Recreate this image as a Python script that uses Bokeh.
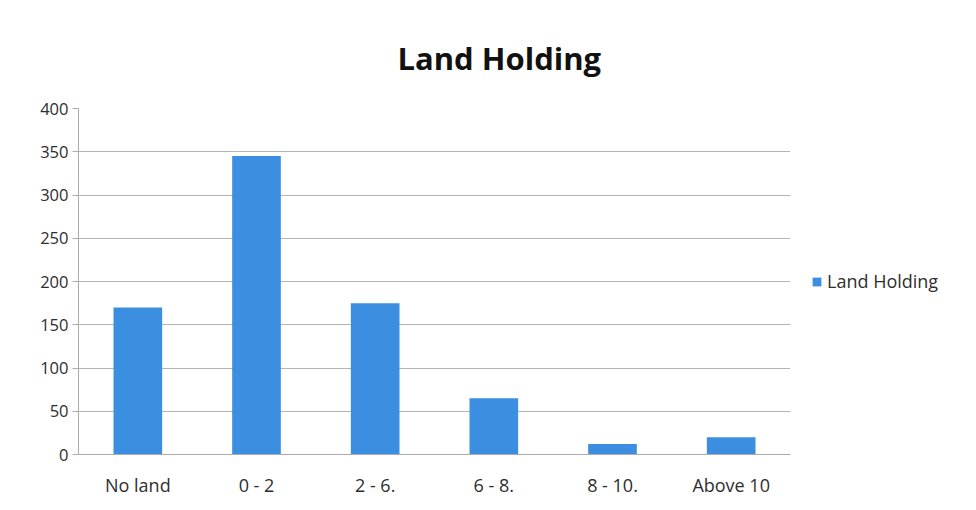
from bokeh.plotting import figure
from bokeh.models import ColumnDataSource, Legend, LegendItem, Title, FixedTicker
from bokeh.embed import file_html
from bokeh.resources import INLINE

categories = ["No land", "0 - 2", "2 - 6.", "6 - 8.", "8 - 10.", "Above 10"]
values = [170, 345, 175, 65, 12, 20]
y_ticks = [0, 50, 100, 150, 200, 250, 300, 350, 400]
series_name = "Land Holding"
chart_title = "Land Holding"

FONT = "Open Sans"

p = figure(x_range=categories, y_range=(0, 400),
           frame_width=712, frame_height=346,
           output_backend="svg", toolbar_location=None,
           min_border_left=78, min_border_right=0,
           min_border_top=108, min_border_bottom=40)
p.outline_line_color = None
p.background_fill_color = "white"
p.border_fill_color = "white"

src = ColumnDataSource(dict(cat=categories, val=values))
r = p.vbar(x="cat", top="val", width=0.41, source=src,
           fill_color="#3c8ee0", line_color=None)

p.yaxis.ticker = FixedTicker(ticks=y_ticks)
p.ygrid.ticker = FixedTicker(ticks=y_ticks)
p.ygrid.grid_line_color = "#b4b4b4"
p.xgrid.grid_line_color = None

for ax in (p.xaxis, p.yaxis):
    ax.major_label_text_font = FONT
    ax.major_label_text_color = "#2e2e2e"
    ax.axis_line_color = "#acacac"
    ax.major_tick_line_color = "#acacac"
    ax.minor_tick_line_color = None
p.xaxis.major_label_text_font_size = "18px"
p.yaxis.major_label_text_font_size = "16.5px"
p.xaxis.major_tick_line_color = None
p.yaxis.major_tick_in = 0
p.yaxis.major_tick_out = 6
p.xaxis.major_label_standoff = 12
p.yaxis.major_label_standoff = 4

p.title = Title(text=chart_title, align="left", offset=319,
                text_font=FONT, text_font_style="bold",
                text_font_size="31px", text_color="#111111",
                standoff=60)

legend = Legend(items=[LegendItem(label=series_name, renderers=[r])],
                location="left", orientation="vertical",
                label_text_font=FONT, label_text_font_size="18px",
                label_text_color="#2e2e2e", border_line_color=None,
                background_fill_alpha=0, glyph_width=11, glyph_height=11,
                label_standoff=5, padding=0, margin=21, spacing=0)
p.add_layout(legend, "right")

open("out.html", "w").write(file_html(p, INLINE))
